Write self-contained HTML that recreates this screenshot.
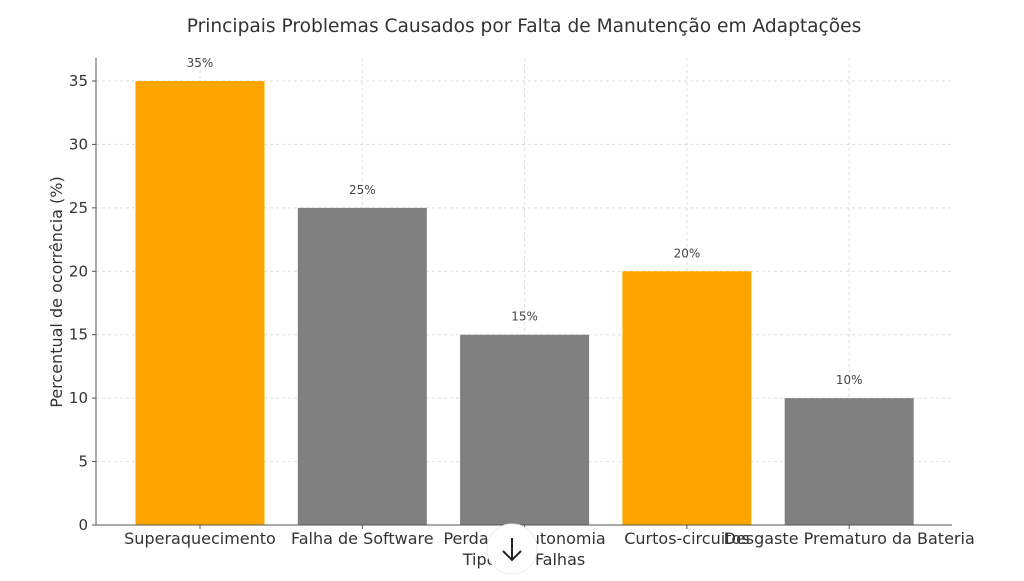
<!DOCTYPE html>
<html><head><meta charset="utf-8"><style>
body{margin:0;background:#fff;}
svg{font-family:"DejaVu Sans","Liberation Sans",sans-serif;}
</style></head><body>
<svg id="chart" width="1024" height="576"></svg>
<script>
const categories=["Superaquecimento","Falha de Software","Perda de Autonomia","Curtos-circuitos","Desgaste Prematuro da Bateria"];
const values=[35,25,15,20,10];
const colors=["#FFA500","#808080","#808080","#FFA500","#808080"];
const yTicks=[0,5,10,15,20,25,30,35];
const NS="http://www.w3.org/2000/svg";
const svg=document.getElementById('chart');
const x0=96,x1=952,yBase=525,yTop=58;
function yS(v){return yBase-v*(525-81)/35;}
function xS(i){return 200+i*162.3;}
function el(t,a,txt){const e=document.createElementNS(NS,t);for(const k in a)e.setAttribute(k,a[k]);if(txt!=null)e.textContent=txt;svg.appendChild(e);return e;}
let e;
e=el('text',{x:524,y:32,'text-anchor':'middle','font-size':18.6,fill:'#333'},'Principais Problemas Causados por Falta de Manutenção em Adaptações');


yTicks.forEach(t=>{
 const y=yS(t);
 e=el('line',{x1:x0,x2:x1,y1:y,y2:y,stroke:'#ddd','stroke-dasharray':'3,3'});
 
 
 el('line',{x1:x0-4,x2:x0,y1:y,y2:y,stroke:'#555'});
 e=el('text',{x:x0-8,y:y+5,'text-anchor':'end','font-size':15,fill:'#333'},String(t));
 
 
});
categories.forEach((c,i)=>{
 const cx=xS(i);
 e=el('line',{x1:cx,x2:cx,y1:yTop,y2:yBase,stroke:'#ddd','stroke-dasharray':'3,3'});
 
 
});
categories.forEach((c,i)=>{
 const cx=xS(i),w=129,y=yS(values[i]);
 e=el('rect',{x:cx-w/2,y:y,width:w,height:yBase-y,fill:colors[i]});
 
 
 e=el('text',{x:cx,y:y-14,'text-anchor':'middle','font-size':12,fill:'#444'},values[i]+'%');
 
 
 el('line',{x1:cx,x2:cx,y1:yBase,y2:yBase+4,stroke:'#555'});
 e=el('text',{x:cx,y:yBase+19,'text-anchor':'middle','font-size':16,fill:'#333'},c);
 
 
});
el('line',{x1:x0,x2:x0,y1:yTop,y2:yBase,stroke:'#555'});
el('line',{x1:x0,x2:x1,y1:yBase,y2:yBase,stroke:'#555'});
e=el('text',{x:524,y:565,'text-anchor':'middle','font-size':16,fill:'#333'},'Tipos de Falhas');


e=el('text',{x:62,y:292,'text-anchor':'middle','font-size':16,fill:'#333',transform:'rotate(-90 62 292)'},'Percentual de ocorrência (%)');


e=el('circle',{cx:512,cy:549,r:25,fill:'#fff',stroke:'#eee'});


e=el('path',{d:'M512 538 V560 M503 551 L512 560 L521 551',stroke:'#222','stroke-width':2,fill:'none'});


</script>
</body></html>
